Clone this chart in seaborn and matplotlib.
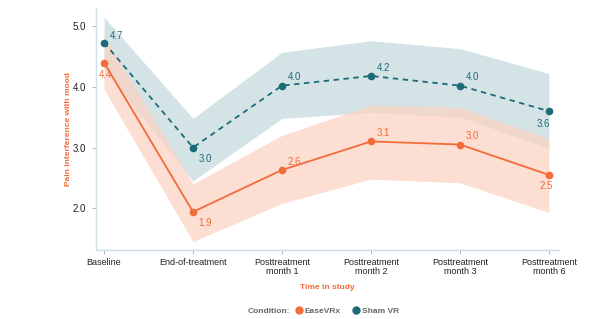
import numpy as np
import pandas as pd
import matplotlib
matplotlib.use("Agg")
import matplotlib.pyplot as plt
from matplotlib.lines import Line2D
import seaborn as sns

time_points = ["Baseline", "End-of-treatment", "Posttreatment\nmonth 1",
               "Posttreatment\nmonth 2", "Posttreatment\nmonth 3", "Posttreatment\nmonth 6"]

ease_mean = [4.40, 1.94, 2.63, 3.10, 3.05, 2.55]
ease_lo = [3.96, 1.45, 2.08, 2.48, 2.42, 1.93]
ease_hi = [4.85, 2.40, 3.20, 3.70, 3.66, 3.15]
ease_text = ["4.4", "1.9", "2.6", "3.1", "3.0", "2.5"]

sham_mean = [4.73, 3.00, 4.02, 4.18, 4.02, 3.60]
sham_lo = [4.30, 2.45, 3.48, 3.58, 3.50, 2.99]
sham_hi = [5.15, 3.48, 4.57, 4.76, 4.63, 4.22]
sham_text = ["4.7", "3.0", "4.0", "4.2", "4.0", "3.6"]

ORANGE = "#f26b3a"
TEAL = "#1d6b78"
ORANGE_BAND = "#fbd3c4"
TEAL_BAND = "#d3e3e6"
SPINE = "#cfe0e8"

df = pd.DataFrame({
    "t": list(range(6)) * 2,
    "score": ease_mean + sham_mean,
    "cond": ["EaseVRx"] * 6 + ["Sham VR"] * 6,
})

sns.set_style("white")
plt.rcParams["font.family"] = ["Liberation Sans", "DejaVu Sans"]

fig = plt.figure(figsize=(6.04, 3.19), dpi=100)
ax = fig.add_axes([0.159, 0.216, 0.766, 0.759])

x = np.arange(6)
ax.fill_between(x, sham_lo, sham_hi, color=TEAL_BAND, lw=0, zorder=1)
ax.fill_between(x, ease_lo, ease_hi, color=ORANGE_BAND, lw=0, alpha=0.75, zorder=2)

sns.lineplot(data=df, x="t", y="score", hue="cond", style="cond",
             palette={"EaseVRx": ORANGE, "Sham VR": TEAL},
             dashes={"EaseVRx": "", "Sham VR": (3, 2.5)},
             markers={"EaseVRx": "o", "Sham VR": "o"},
             markersize=5.5, markeredgewidth=0, linewidth=1.3,
             legend=False, ax=ax, zorder=3)

# value labels: (dx, dy) offsets in points
ease_off = [(-4, -9), (4, -8), (4, 6), (4, 6), (4, 6), (-7, -8)]
sham_off = [(4, 5), (4, -8), (4, 6), (4, 6), (4, 6), (-9, -9)]
for i in range(6):
    ax.annotate(ease_text[i], (i, ease_mean[i]), xytext=ease_off[i], textcoords="offset points",
                color=ORANGE, fontsize=7, ha="left", va="center", zorder=4)
    ax.annotate(sham_text[i], (i, sham_mean[i]), xytext=sham_off[i], textcoords="offset points",
                color=TEAL, fontsize=7, ha="left", va="center", zorder=4)

ax.set_xlim(-0.09, 5.11)
ax.set_ylim(1.31, 5.3)
ax.set_xticks(x)
ax.set_xticklabels(time_points, fontsize=6.5, color="#222222", linespacing=0.95)
ax.set_yticks([2.0, 3.0, 4.0, 5.0])
ax.set_yticklabels(["2.0", "3.0", "4.0", "5.0"], fontsize=7, color="#222222")
ax.tick_params(axis="both", bottom=True, left=True, length=3, width=0.6,
               color="#aaaaaa", direction="out")
ax.tick_params(axis="x", pad=3)
ax.tick_params(axis="y", pad=4)

for s in ["top", "right"]:
    ax.spines[s].set_visible(False)
for s in ["left", "bottom"]:
    ax.spines[s].set_color(SPINE)
    ax.spines[s].set_linewidth(1.0)

ax.set_xlabel("Time in study", fontsize=6, color=ORANGE, fontweight="bold", labelpad=6)
ax.set_ylabel("Pain interference with mood", fontsize=6, color=ORANGE, fontweight="bold", labelpad=1)

fig.text(0.41, 0.024, "Condition:", fontsize=6, color="#666666", fontweight="bold",
         ha="left", va="center")
handles = [Line2D([], [], marker="o", ls="", color=ORANGE, markersize=6, markeredgewidth=0),
           Line2D([], [], marker="o", ls="", color=TEAL, markersize=6, markeredgewidth=0)]
leg = fig.legend(handles, ["EaseVRx", "Sham VR"], loc="center left", bbox_to_anchor=(0.478, 0.026),
                 ncol=2, frameon=False, fontsize=6, handletextpad=0.2, columnspacing=1.4,
                 handlelength=1.0, borderpad=0.2)
for t in leg.get_texts():
    t.set_color("#666666")
    t.set_fontweight("bold")

fig.savefig("out.png", dpi=100)
